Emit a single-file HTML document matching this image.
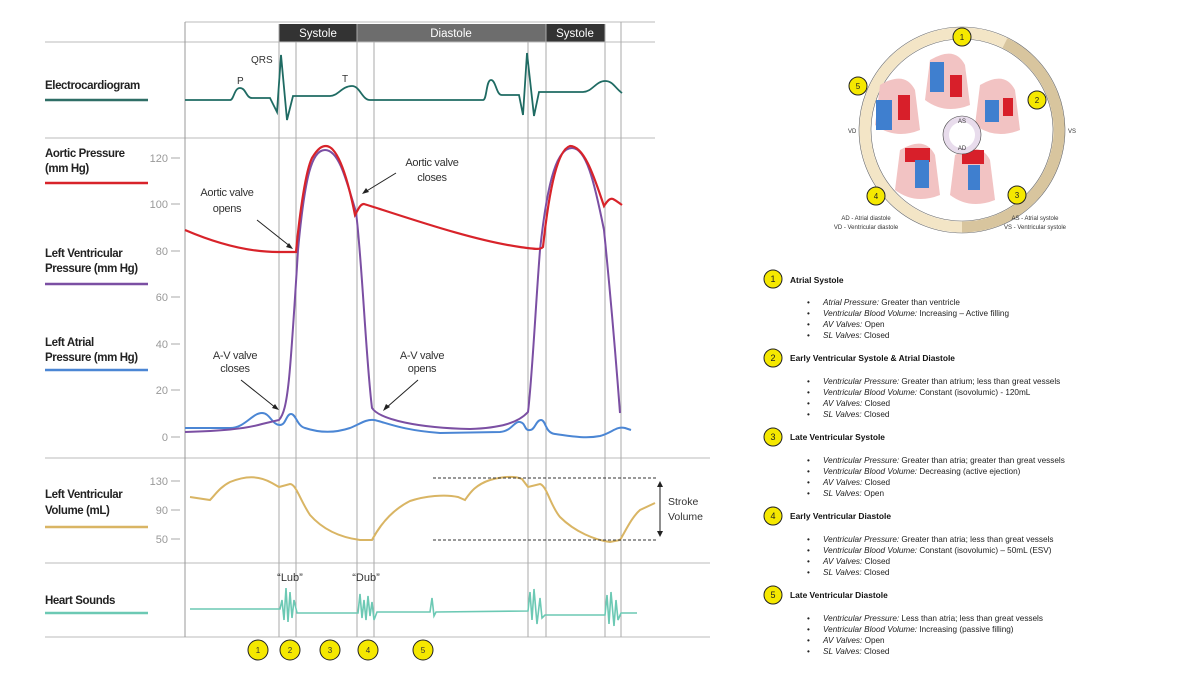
<!DOCTYPE html>
<html><head><meta charset="utf-8"><style>
html,body{margin:0;padding:0;background:#fff;}
svg{display:block;font-family:"Liberation Sans",sans-serif;}
.lbl{font-size:11.5px;font-weight:bold;fill:#222;letter-spacing:-0.4px}
.tk{font-size:11px;fill:#999}
.an{font-size:11px;fill:#333;text-anchor:middle;letter-spacing:-0.3px}
.rt{font-size:8.2px;fill:#222}
.rh{font-size:8.4px;fill:#111;font-weight:bold}
</style></head><body>
<svg width="1200" height="675" viewBox="0 0 1200 675">
<rect x="279" y="24" width="78" height="18" fill="#333"/>
<rect x="357" y="24" width="189" height="18" fill="#6d6d6d"/>
<rect x="546" y="24" width="59" height="18" fill="#333"/>
<text x="318" y="37" fill="#fff" font-size="11.5" text-anchor="middle">Systole</text>
<text x="451" y="37" fill="#fff" font-size="11.5" text-anchor="middle">Diastole</text>
<text x="575" y="37" fill="#fff" font-size="11.5" text-anchor="middle">Systole</text>
<g stroke="#bbb" stroke-width="1" fill="none">
<line x1="185" y1="22" x2="655" y2="22"/>
<line x1="45" y1="42" x2="655" y2="42"/>
<line x1="45" y1="138" x2="655" y2="138"/>
<line x1="45" y1="458" x2="710" y2="458"/>
<line x1="45" y1="563" x2="710" y2="563"/>
<line x1="45" y1="637" x2="710" y2="637"/>
<line x1="185" y1="22" x2="185" y2="637" stroke="#999"/>
</g>
<g stroke="#aaa" stroke-width="1">
<line x1="279" y1="24" x2="279" y2="637"/><line x1="296" y1="42" x2="296" y2="637"/>
<line x1="357" y1="24" x2="357" y2="637"/><line x1="374" y1="42" x2="374" y2="637"/>
<line x1="528" y1="42" x2="528" y2="637"/><line x1="546" y1="24" x2="546" y2="637"/>
<line x1="605" y1="24" x2="605" y2="637"/><line x1="621" y1="22" x2="621" y2="637"/>
</g>
<text class="lbl" x="45" y="89">Electrocardiogram</text>
<line x1="45" y1="100" x2="148" y2="100" stroke="#2e6e66" stroke-width="2.5"/>
<text class="lbl" x="45" y="157">Aortic Pressure</text><text class="lbl" x="45" y="172">(mm Hg)</text>
<line x1="45" y1="183" x2="148" y2="183" stroke="#d8232a" stroke-width="2.5"/>
<text class="lbl" x="45" y="257">Left Ventricular</text><text class="lbl" x="45" y="272">Pressure (mm Hg)</text>
<line x1="45" y1="284" x2="148" y2="284" stroke="#7b4fa3" stroke-width="2.5"/>
<text class="lbl" x="45" y="346">Left Atrial</text><text class="lbl" x="45" y="361">Pressure (mm Hg)</text>
<line x1="45" y1="370" x2="148" y2="370" stroke="#4b86d4" stroke-width="2.5"/>
<text class="lbl" x="45" y="498">Left Ventricular</text><text class="lbl" x="45" y="514">Volume (mL)</text>
<line x1="45" y1="527" x2="148" y2="527" stroke="#d9b564" stroke-width="2.5"/>
<text class="lbl" x="45" y="604">Heart Sounds</text>
<line x1="45" y1="613" x2="148" y2="613" stroke="#6cc9b4" stroke-width="2.5"/>
<g class="tk" text-anchor="end">
<text x="168" y="162">120</text><text x="168" y="208">100</text><text x="168" y="255">80</text>
<text x="168" y="301">60</text><text x="168" y="348">40</text><text x="168" y="394">20</text><text x="168" y="441">0</text>
<text x="168" y="485">130</text><text x="168" y="514">90</text><text x="168" y="543">50</text>
</g>
<g stroke="#aaa"><line x1="171" y1="158" x2="180" y2="158"/><line x1="171" y1="204" x2="180" y2="204"/><line x1="171" y1="251" x2="180" y2="251"/><line x1="171" y1="297" x2="180" y2="297"/><line x1="171" y1="344" x2="180" y2="344"/><line x1="171" y1="390" x2="180" y2="390"/><line x1="171" y1="437" x2="180" y2="437"/><line x1="171" y1="481" x2="180" y2="481"/><line x1="171" y1="510" x2="180" y2="510"/><line x1="171" y1="539" x2="180" y2="539"/></g>
<path d="M185,100 L230,100 C234,100 234,88 240,88 C246,88 246,98 252,98 L270,98 L277,112 L281,55 L287,120 L293,96 L330,96 C338,96 342,86 352,86 C360,86 362,100 370,100 L483,100 C487,100 486,80 491,80 C496,80 496,95 502,95 L519,95 L523,115 L527,53 L534,116 L539,92 L583,92 C592,92 596,81 605,81 C613,81 615,88 622,93" fill="none" stroke="#1f6b63" stroke-width="1.8"/>
<text x="237" y="84" font-size="10" fill="#333">P</text>
<text x="251" y="63" font-size="10" fill="#333">QRS</text>
<text x="342" y="82" font-size="10" fill="#333">T</text>
<path d="M185,428 L230,428 C245,428 252,413 262,413 C270,413 272,425 280,425 C286,425 286,414 291,414 C296,414 297,426 305,428 C320,433 335,433 350,428 C360,424 366,419 374,420 C385,422 400,430 440,433 L500,432 C512,431 514,421 520,422 C526,423 524,431 530,430 C535,430 536,420 541,420 C546,420 545,433 555,434 C570,436 585,439 600,436 C612,433 616,426 625,428 L631,430" fill="none" stroke="#4b86d4" stroke-width="2"/>
<path d="M185,432 C220,431 245,429 262,424 L279,420 C288,410 290,380 298,250 C305,175 312,150 325,150 C338,150 345,175 356,212 C362,260 366,360 372,408 C380,420 420,428 470,429 C500,428 518,423 528,412 C532,380 536,300 540,250 C548,175 558,148 572,148 C586,148 594,180 604,230 C610,290 616,360 620,413" fill="none" stroke="#7b4fa3" stroke-width="2"/>
<path d="M185,230 C220,245 250,252 278,252 L296,252 C300,210 306,170 312,158 C318,148 322,146 326,146 C338,146 348,180 355,215 C358,210 360,204 364,204 C400,215 470,240 520,247 C535,249 540,250 543,247 C548,200 556,150 570,146 C585,146 595,180 604,206 C608,200 610,198 613,199 C617,201 619,203 622,205" fill="none" stroke="#d8232a" stroke-width="2.2"/>
<text class="an" x="227" y="196">Aortic valve</text><text class="an" x="227" y="212">opens</text>
<line x1="257" y1="220" x2="291" y2="247" stroke="#222"/><path d="M293,249 l-7,-2 l3,-4z" fill="#222"/>
<text class="an" x="432" y="166">Aortic valve</text><text class="an" x="432" y="181">closes</text>
<line x1="396" y1="173" x2="365" y2="192" stroke="#222"/><path d="M362,194 l4,-6 l3,4z" fill="#222"/>
<text class="an" x="235" y="359">A-V valve</text><text class="an" x="235" y="372">closes</text>
<line x1="241" y1="380" x2="276" y2="408" stroke="#222"/><path d="M279,410 l-7,-2 l3,-4z" fill="#222"/>
<text class="an" x="422" y="359">A-V valve</text><text class="an" x="422" y="372">opens</text>
<line x1="418" y1="380" x2="386" y2="408" stroke="#222"/><path d="M383,411 l3,-7 l4,3z" fill="#222"/>
<path d="M190,497 L210,500 C215,495 220,487 230,482 C245,476 258,475 272,483 L279,487 L290,484 C296,484 300,500 310,515 C325,532 345,538 360,540 L372,540 C380,525 392,510 410,501 C425,496 445,494 458,497 L465,500 C470,493 475,485 490,480 C505,476 515,476 522,479 L528,487 L540,484 C547,486 550,505 560,517 C575,532 595,540 610,542 L620,540 C626,530 632,517 640,510 L655,503" fill="none" stroke="#d9b564" stroke-width="2"/>
<line x1="433" y1="478" x2="658" y2="478" stroke="#333" stroke-dasharray="3,2"/>
<line x1="433" y1="540" x2="658" y2="540" stroke="#333" stroke-dasharray="3,2"/>
<line x1="660" y1="485" x2="660" y2="533" stroke="#222"/>
<path d="M660,481 l-3,6 h6z M660,537 l-3,-6 h6z" fill="#222"/>
<text x="668" y="505" font-size="10.5" fill="#333">Stroke</text><text x="668" y="520" font-size="10.5" fill="#333">Volume</text>
<path d="M190,609 L280,609 L282,600 L284,620 L286,588 L288,622 L290,592 L292,618 L294,600 L297,613 L358,613 L360,594 L362,618 L364,600 L366,620 L368,596 L370,616 L372,602 L374,620 L377,612 L430,612 L432,598 L434,616 L436,612 L528,611 L530,592 L532,620 L534,589 L537,624 L540,598 L542,618 L545,615 L605,615 L607,595 L609,624 L611,592 L614,626 L616,600 L618,620 L621,613 L637,613" fill="none" stroke="#6cc9b4" stroke-width="1.6"/>
<text x="290" y="581" font-size="11" fill="#333" text-anchor="middle">“Lub”</text>
<text x="366" y="581" font-size="11" fill="#333" text-anchor="middle">“Dub”</text>
<g stroke="#222" stroke-width="1" fill="#f5e800">
<circle cx="258" cy="650" r="10"/><circle cx="290" cy="650" r="10"/><circle cx="330" cy="650" r="10"/><circle cx="368" cy="650" r="10"/><circle cx="423" cy="650" r="10"/>
</g>
<g font-size="8" text-anchor="middle" fill="#333"><text x="258" y="653">1</text><text x="290" y="653">2</text><text x="330" y="653">3</text><text x="368" y="653">4</text><text x="423" y="653">5</text></g>
<circle cx="962" cy="130" r="97" fill="none" stroke="#f3e5c6" stroke-width="11"/>
<path d="M1005,43 A97,97 0 0 1 962,227" fill="none" stroke="#d8c59e" stroke-width="11"/>
<circle cx="962" cy="130" r="103" fill="none" stroke="#666" stroke-width="0.6"/>
<circle cx="962" cy="130" r="91" fill="none" stroke="#666" stroke-width="0.6"/>
<g>
<path d="M930,60 q25,-15 35,5 l5,40 q-25,10 -45,-5z" fill="#f2c3c3"/><rect x="930" y="62" width="14" height="30" fill="#3f7fcf"/><rect x="950" y="75" width="12" height="22" fill="#d81f2a"/>
<path d="M880,85 q25,-15 35,5 l5,40 q-25,10 -45,-5z" fill="#f2c3c3"/><rect x="876" y="100" width="16" height="30" fill="#3f7fcf"/><rect x="898" y="95" width="12" height="25" fill="#d81f2a"/>
<path d="M980,85 q25,-15 35,5 l5,40 q-25,10 -45,-5z" fill="#f2c3c3"/><rect x="985" y="100" width="14" height="22" fill="#3f7fcf"/><rect x="1003" y="98" width="10" height="18" fill="#d81f2a"/>
<path d="M900,150 q25,-15 35,5 l5,40 q-25,10 -45,-5z" fill="#f2c3c3"/><rect x="905" y="148" width="25" height="14" fill="#d81f2a"/><rect x="915" y="160" width="14" height="28" fill="#3f7fcf"/>
<path d="M955,155 q25,-15 35,5 l5,40 q-25,10 -45,-5z" fill="#f2c3c3"/><rect x="962" y="150" width="22" height="14" fill="#d81f2a"/><rect x="968" y="165" width="12" height="25" fill="#3f7fcf"/>
</g>
<circle cx="962" cy="135" r="16" fill="none" stroke="#e8dcec" stroke-width="6"/>
<circle cx="962" cy="135" r="19" fill="none" stroke="#444" stroke-width="0.6"/>
<text x="962" y="123" font-size="6" text-anchor="middle" fill="#333">AS</text><text x="962" y="150" font-size="6" text-anchor="middle" fill="#333">AD</text>
<g stroke="#222" fill="#f5e800"><circle cx="962" cy="37" r="9"/><circle cx="1037" cy="100" r="9"/><circle cx="1017" cy="195" r="9"/><circle cx="876" cy="196" r="9"/><circle cx="858" cy="86" r="9"/></g>
<g font-size="8" text-anchor="middle" fill="#222"><text x="962" y="40">1</text><text x="1037" y="103">2</text><text x="1017" y="198">3</text><text x="876" y="199">4</text><text x="858" y="89">5</text></g>
<text x="848" y="133" font-size="6" fill="#333">VD</text><text x="1068" y="133" font-size="6" fill="#333">VS</text>
<g font-size="6" fill="#333" text-anchor="middle"><text x="866" y="220">AD - Atrial diastole</text><text x="866" y="229">VD - Ventricular diastole</text><text x="1035" y="220">AS - Atrial systole</text><text x="1035" y="229">VS - Ventricular systole</text></g>
<g stroke="#222" fill="#f5e800"><circle cx="773" cy="279" r="9"/><circle cx="773" cy="358" r="9"/><circle cx="773" cy="437" r="9"/><circle cx="773" cy="516" r="9"/><circle cx="773" cy="595" r="9"/></g>
<g font-size="9" text-anchor="middle" fill="#222"><text x="773" y="282">1</text><text x="773" y="361">2</text><text x="773" y="440">3</text><text x="773" y="519">4</text><text x="773" y="598">5</text></g>
<g class="rh"><text x="790" y="283">Atrial Systole</text><text x="790" y="361">Early Ventricular Systole &amp; Atrial Diastole</text><text x="790" y="440">Late Ventricular Systole</text><text x="790" y="519">Early Ventricular Diastole</text><text x="790" y="598">Late Ventricular Diastole</text></g>
<g class="rt">
<text x="807" y="305">•</text><text x="807" y="316">•</text><text x="807" y="327">•</text><text x="807" y="338">•</text>
<text x="807" y="384">•</text><text x="807" y="395">•</text><text x="807" y="406">•</text><text x="807" y="417">•</text>
<text x="807" y="463">•</text><text x="807" y="474">•</text><text x="807" y="485">•</text><text x="807" y="496">•</text>
<text x="807" y="542">•</text><text x="807" y="553">•</text><text x="807" y="564">•</text><text x="807" y="575">•</text>
<text x="807" y="621">•</text><text x="807" y="632">•</text><text x="807" y="643">•</text><text x="807" y="654">•</text>
<text x="823" y="305"><tspan font-style="italic">Atrial Pressure:</tspan> Greater than ventricle</text>
<text x="823" y="316"><tspan font-style="italic">Ventricular Blood Volume:</tspan> Increasing – Active filling</text>
<text x="823" y="327"><tspan font-style="italic">AV Valves:</tspan> Open</text>
<text x="823" y="338"><tspan font-style="italic">SL Valves:</tspan> Closed</text>
<text x="823" y="384"><tspan font-style="italic">Ventricular Pressure:</tspan> Greater than atrium; less than great vessels</text>
<text x="823" y="395"><tspan font-style="italic">Ventricular Blood Volume:</tspan> Constant (isovolumic) - 120mL</text>
<text x="823" y="406"><tspan font-style="italic">AV Valves:</tspan> Closed</text>
<text x="823" y="417"><tspan font-style="italic">SL Valves:</tspan> Closed</text>
<text x="823" y="463"><tspan font-style="italic">Ventricular Pressure:</tspan> Greater than atria; greater than great vessels</text>
<text x="823" y="474"><tspan font-style="italic">Ventricular Blood Volume:</tspan> Decreasing (active ejection)</text>
<text x="823" y="485"><tspan font-style="italic">AV Valves:</tspan> Closed</text>
<text x="823" y="496"><tspan font-style="italic">SL Valves:</tspan> Open</text>
<text x="823" y="542"><tspan font-style="italic">Ventricular Pressure:</tspan> Greater than atria; less than great vessels</text>
<text x="823" y="553"><tspan font-style="italic">Ventricular Blood Volume:</tspan> Constant (isovolumic) – 50mL (ESV)</text>
<text x="823" y="564"><tspan font-style="italic">AV Valves:</tspan> Closed</text>
<text x="823" y="575"><tspan font-style="italic">SL Valves:</tspan> Closed</text>
<text x="823" y="621"><tspan font-style="italic">Ventricular Pressure:</tspan> Less than atria; less than great vessels</text>
<text x="823" y="632"><tspan font-style="italic">Ventricular Blood Volume:</tspan> Increasing (passive filling)</text>
<text x="823" y="643"><tspan font-style="italic">AV Valves:</tspan> Open</text>
<text x="823" y="654"><tspan font-style="italic">SL Valves:</tspan> Closed</text>
</g>
</svg>
</body></html>
